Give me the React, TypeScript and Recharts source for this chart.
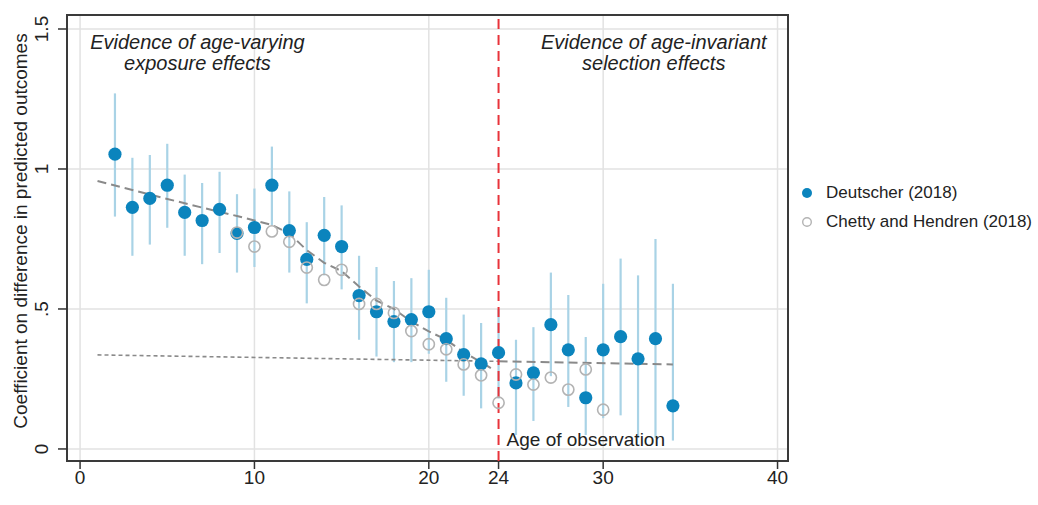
import React from 'react';
import {
  ComposedChart, Scatter, Line, XAxis, YAxis, CartesianGrid, ErrorBar,
  ReferenceLine, ReferenceArea, ReferenceDot, Legend,
} from 'recharts';

// ---- Data ----
const deutscherAges = [2,3,4,5,6,7,8,9,10,11,12,13,14,15,16,17,18,19,20,21,22,23,24,25,26,27,28,29,30,31,32,33,34];
const deutscherVals = [1.053,0.863,0.895,0.942,0.845,0.816,0.856,0.77,0.791,0.942,0.78,0.677,0.763,0.723,0.548,0.49,0.455,0.462,0.49,0.394,0.337,0.304,0.344,0.236,0.272,0.444,0.354,0.183,0.354,0.401,0.322,0.394,0.154];
const deutscherLo = [0.83,0.69,0.73,0.79,0.69,0.66,0.70,0.63,0.65,0.80,0.63,0.52,0.62,0.57,0.39,0.33,0.31,0.31,0.34,0.24,0.19,0.145,0.18,0.05,0.10,0.26,0.15,0.05,0.11,0.12,0.04,0.04,0.03];
const deutscherHi = [1.27,1.04,1.05,1.09,0.98,0.95,0.99,0.91,0.93,1.08,0.92,0.81,0.90,0.87,0.69,0.65,0.60,0.61,0.64,0.54,0.48,0.45,0.50,0.39,0.435,0.63,0.55,0.40,0.59,0.68,0.62,0.75,0.59];

const chettyAges = [9,10,11,12,13,14,15,16,17,18,19,20,21,22,23,24,25,26,27,28,29,30];
const chettyVals = [0.773,0.723,0.777,0.74,0.648,0.604,0.64,0.518,0.518,0.486,0.421,0.374,0.356,0.302,0.263,0.165,0.266,0.23,0.255,0.212,0.284,0.14];

const fitAges = [1,3,5,7,9,10,11,12,13,14,15,16,17,18,19,20,21,22,23,23.8];
const fitVals = [0.957,0.925,0.893,0.862,0.832,0.816,0.80,0.77,0.71,0.665,0.635,0.58,0.53,0.50,0.455,0.42,0.39,0.345,0.31,0.28];
const flatAges = [24,34];
const flatVals = [0.313,0.302];
const selAges = [1,24];
const selVals = [0.336,0.313];

const xTicks = [0,10,20,24,30,40];
const yTicks = [0,0.5,1,1.5];
const yTickLabels = ['0','.5','1','1.5'];
const seriesNames = ['Deutscher (2018)', 'Chetty and Hendren (2018)'];
const observationAge = 24;

// ---- Build tables ----
const deutscherData = deutscherAges.map((x, i) => ({
  x, y: deutscherVals[i], err: [deutscherVals[i] - deutscherLo[i], deutscherHi[i] - deutscherVals[i]],
}));
const chettyData = chettyAges.map((x, i) => ({ x, y: chettyVals[i] }));
const fitData = fitAges.map((x, i) => ({ x, y: fitVals[i] }));
const flatData = flatAges.map((x, i) => ({ x, y: flatVals[i] }));
const selData = selAges.map((x, i) => ({ x, y: selVals[i] }));

const FONT = '"Liberation Sans", Arial, Helvetica, sans-serif';
const BLUE = '#0b84bd';
const BAR = '#a9d3e6';
const GREY_CIRCLE = '#b3b3b3';
const FIT = '#8a8a8a';
const X_DOMAIN: [number, number] = [-0.75, 40.6];
const Y_DOMAIN: [number, number] = [-0.043, 1.55];

const YTick = (props: any) => {
  const { x, y, payload } = props;
  const idx = yTicks.indexOf(payload.value);
  const cx = x - 14;
  return (
    <text x={cx} y={y} transform={`rotate(-90, ${cx}, ${y})`} textAnchor="middle"
      dominantBaseline="central" fontSize={19} fontFamily={FONT} fill="#222">
      {idx >= 0 ? yTickLabels[idx] : payload.value}
    </text>
  );
};

const YLabel = (props: any) => {
  const vb = props.viewBox || { y: 15, height: 445 };
  const cy = vb.y + vb.height / 2 - 7;
  return (
    <text x={20} y={cy} transform={`rotate(-90, 20, ${cy})`} textAnchor="middle"
      dominantBaseline="central" fontSize={19} fontFamily={FONT} fill="#222">
      Coefficient on difference in predicted outcomes
    </text>
  );
};

const LegendContent = () => (
  <div style={{ fontFamily: FONT, fontSize: 17, color: '#222' }}>
    <div style={{ display: 'flex', alignItems: 'center', height: 29 }}>
      <svg width={14} height={14} style={{ marginRight: 12 }}>
        <circle cx={7} cy={7} r={5} fill={BLUE} />
      </svg>
      <span>{seriesNames[0]}</span>
    </div>
    <div style={{ display: 'flex', alignItems: 'center', height: 29 }}>
      <svg width={14} height={14} style={{ marginRight: 12 }}>
        <circle cx={7} cy={7} r={4.3} fill="none" stroke={GREY_CIRCLE} strokeWidth={1.4} />
      </svg>
      <span>{seriesNames[1]}</span>
    </div>
  </div>
);

const annot = (value: string, italic = true) => ({
  value,
  position: 'center' as const,
  fontSize: 20,
  fontStyle: italic ? 'italic' : 'normal',
  fontFamily: FONT,
  fill: '#222',
});

export default function App() {
  return (
    <div style={{ position: 'absolute', left: 0, top: 0, background: '#fff' }}>
      <ComposedChart width={1038} height={505} margin={{ top: 15, right: 250, bottom: 0, left: 10 }}>
        <CartesianGrid stroke="#e2e2e2" strokeWidth={1.5}
          horizontalValues={yTicks} verticalValues={[0,10,20,30,40]} />
        <XAxis dataKey="x" type="number" domain={X_DOMAIN} allowDataOverflow ticks={xTicks}
          height={44} axisLine={false} tickSize={8} tickLine={{ stroke: '#333', strokeWidth: 1.5 }}
          tick={{ fontSize: 19, fontFamily: FONT, fill: '#222' }} interval={0} />
        <YAxis dataKey="y" type="number" domain={Y_DOMAIN} allowDataOverflow ticks={yTicks}
          width={57} axisLine={false} tickSize={9} tickLine={{ stroke: '#333', strokeWidth: 1.5 }}
          tick={<YTick />} interval={0} label={<YLabel />} />
        <ReferenceArea x1={X_DOMAIN[0]} x2={X_DOMAIN[1]} y1={Y_DOMAIN[0]} y2={Y_DOMAIN[1]}
          fill="none" stroke="#3a3a3a" strokeWidth={2} fillOpacity={0} />
        <Scatter data={deutscherData} dataKey="y" isAnimationActive={false} legendType="none"
          shape={() => <g />}>
          <ErrorBar dataKey="err" direction="y" width={0} stroke={BAR} strokeWidth={2.2} isAnimationActive={false} />
        </Scatter>
        <Line data={selData} dataKey="y" type="linear" stroke={FIT} strokeWidth={1.6}
          strokeDasharray="4 3" dot={false} isAnimationActive={false} legendType="none" />
        <Line data={fitData} dataKey="y" type="linear" stroke={FIT} strokeWidth={2}
          strokeDasharray="9 5" dot={false} isAnimationActive={false} legendType="none" />
        <Line data={flatData} dataKey="y" type="linear" stroke={FIT} strokeWidth={2}
          strokeDasharray="9 5" dot={false} isAnimationActive={false} legendType="none" />
        <ReferenceLine x={observationAge} stroke="#e8333a" strokeWidth={2} strokeDasharray="10 6" />
        <Scatter data={deutscherData} dataKey="y" name={seriesNames[0]} isAnimationActive={false}
          shape={(p: any) => <circle cx={p.cx} cy={p.cy} r={6.6} fill={BLUE} />} />
        <Scatter data={chettyData} dataKey="y" name={seriesNames[1]} isAnimationActive={false}
          shape={(p: any) => <circle cx={p.cx} cy={p.cy} r={5.6} fill="none" stroke={GREY_CIRCLE} strokeWidth={1.6} />} />
        <ReferenceDot x={6.73} y={1.454} r={0} fill="none" stroke="none" label={annot('Evidence of age-varying')} />
        <ReferenceDot x={6.73} y={1.378} r={0} fill="none" stroke="none" label={annot('exposure effects')} />
        <ReferenceDot x={32.9} y={1.454} r={0} fill="none" stroke="none" label={annot('Evidence of age-invariant')} />
        <ReferenceDot x={32.9} y={1.378} r={0} fill="none" stroke="none" label={annot('selection effects')} />
        <ReferenceDot x={observationAge} y={0.036} r={0} fill="none" stroke="none"
          label={{ value: 'Age of observation', position: 'right', offset: 8, fontSize: 19, fontFamily: FONT, fill: '#222' }} />
        <Legend layout="vertical" align="center" verticalAlign="middle" content={<LegendContent />}
          wrapperStyle={{ left: 800, top: 178, width: 238 }} />
      </ComposedChart>
    </div>
  );
}
